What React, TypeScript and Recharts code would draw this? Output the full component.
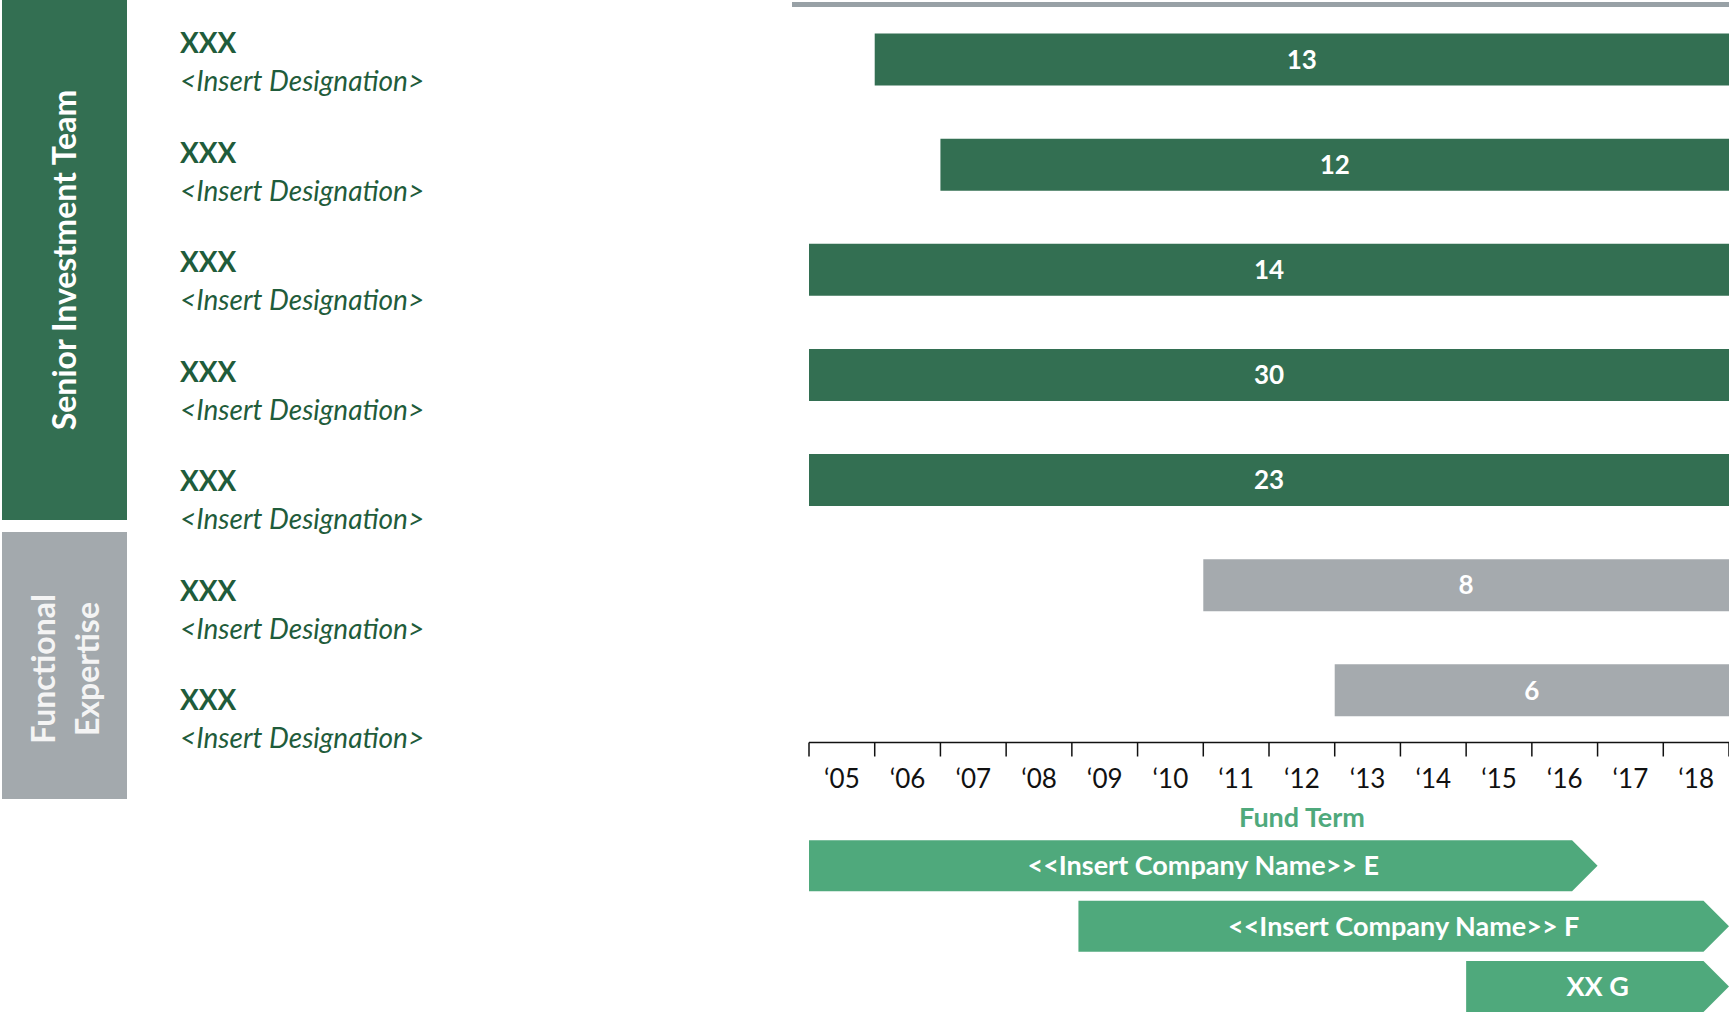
import React from 'react';
import { BarChart, Bar, XAxis, YAxis, Cell, LabelList, Label } from 'recharts';

// team rows, top to bottom
const names = ['XXX', 'XXX', 'XXX', 'XXX', 'XXX', 'XXX', 'XXX'];
const designations = [
    '<Insert Designation>',
    '<Insert Designation>',
    '<Insert Designation>',
    '<Insert Designation>',
    '<Insert Designation>',
    '<Insert Designation>',
    '<Insert Designation>',
];
const startYears = [2006, 2007, 2005, 2005, 2005, 2011, 2013];
const yearsExperience = [13, 12, 14, 30, 23, 8, 6];
const teamGroups = ['senior', 'senior', 'senior', 'senior', 'senior', 'functional', 'functional'];
const END_YEAR = 2019;

// x axis
const yearTicks = [2005, 2006, 2007, 2008, 2009, 2010, 2011, 2012, 2013, 2014, 2015, 2016, 2017, 2018, 2019];
const yearLabels = ['‘05', '‘06', '‘07', '‘08', '‘09', '‘10', '‘11', '‘12', '‘13', '‘14', '‘15', '‘16', '‘17', '‘18'];

// fund terms
const fundNames = ['<<Insert Company Name>> E', '<<Insert Company Name>> F', 'XX G'];
const fundStart = [2005, 2009.1, 2015];
const fundEnd = [2017, 2019, 2019];

const FONT = 'Lato, "Open Sans", sans-serif';
const DARK_GREEN = '#336f52';
const TEXT_GREEN = '#1f5c3b';
const GREY = '#a5aaae';
const LIGHT_GREEN = '#4fa97c';

const W = 1729;
const PLOT_LEFT = 809;
const HALF_YEAR = (W - PLOT_LEFT) / (END_YEAR - 2005) / 2;

const rows = names.map((n, i) => ({
    id: `r${i}`,
    name: n,
    designation: designations[i],
    span: [startYears[i], END_YEAR],
    years: yearsExperience[i],
    group: teamGroups[i],
}));

const funds = fundNames.map((n, i) => ({
    id: `f${i}`,
    name: n,
    span: [fundStart[i], fundEnd[i]],
}));

const YearTick = (props: any) => {
    const { x, y, index } = props;
    const label = yearLabels[index];
    if (!label) return null;
    return (
        <text x={x + HALF_YEAR} y={y + 29.5} textAnchor="middle" fill="#111" fontSize={26} fontFamily={FONT}>
            {label}
        </text>
    );
};

const NameTick = (props: any) => {
    const { y, index } = props;
    const row = rows[index];
    if (!row) return null;
    // the name column in the slide drifts slightly against the bars
    const base = y - 6 + index * 4.4;
    return (
        <g>
            <text x={180} y={base} fill={TEXT_GREEN} fontSize={28} fontWeight={700} fontFamily={FONT}>
                {row.name}
            </text>
            <text x={180} y={base + 38} fill={TEXT_GREEN} fontSize={28} fontStyle="italic" fontFamily={FONT}>
                {row.designation}
            </text>
        </g>
    );
};

const ArrowShape = (props: any) => {
    const { x, y, width, height, fill } = props;
    const tip = height / 2;
    const pts = [
        [x, y],
        [x + width - tip, y],
        [x + width, y + height / 2],
        [x + width - tip, y + height],
        [x, y + height],
    ];
    return <polygon points={pts.map(p => p.join(',')).join(' ')} fill={fill} />;
};

const GroupPanel = () => (
    <svg width={130} height={800} style={{ position: 'absolute', left: 0, top: 0 }}>
        <rect x={2} y={0} width={125} height={520} fill={DARK_GREEN} />
        <text
            x={63}
            y={260}
            transform="rotate(-90 63 260)"
            textAnchor="middle"
            dominantBaseline="central"
            fill="#fff"
            fontSize={32}
            fontWeight={700}
            fontFamily={FONT}
        >
            Senior Investment Team
        </text>
        <rect x={2} y={532} width={125} height={267} fill="#a3a9ad" />
        <g transform="rotate(-90 64 669)" fontFamily={FONT} fontSize={32} fontWeight={700} fill="#f4f4f4">
            <text x={64} y={669 - 22} textAnchor="middle" dominantBaseline="central">Functional</text>
            <text x={64} y={669 + 22} textAnchor="middle" dominantBaseline="central">Expertise</text>
        </g>
    </svg>
);

const App: React.FC = () => {
    return (
        <div
            style={{
                position: 'absolute',
                left: 0,
                top: 0,
                width: W,
                height: 1013,
                overflow: 'hidden',
                background: '#fff',
                fontFamily: FONT,
            }}
        >
            <GroupPanel />
            <div style={{ position: 'absolute', left: 792, top: 2, width: W - 792, height: 5, background: '#98a1a6' }} />

            <div style={{ position: 'absolute', left: 0, top: 0 }}>
                <BarChart
                    layout="vertical"
                    width={W}
                    height={835}
                    data={rows}
                    margin={{ top: 6.5, right: 0, bottom: 0, left: 0 }}
                    barSize={52}
                >
                    <XAxis
                        type="number"
                        domain={[2005, END_YEAR]}
                        ticks={yearTicks}
                        interval={0}
                        allowDataOverflow
                        height={92.5}
                        tickSize={14}
                        tickMargin={2}
                        axisLine={{ stroke: '#111', strokeWidth: 1.5 }}
                        tickLine={{ stroke: '#111', strokeWidth: 1.5 }}
                        tick={<YearTick />}
                    >
                        <Label
                            value="Fund Term"
                            position="insideBottom"
                            offset={8}
                            dx={33}
                            fill={LIGHT_GREEN}
                            fontSize={27}
                            fontWeight={700}
                            fontFamily={FONT}
                        />
                    </XAxis>
                    <YAxis
                        type="category"
                        dataKey="id"
                        width={PLOT_LEFT}
                        axisLine={false}
                        tickLine={false}
                        interval={0}
                        tick={<NameTick />}
                    />
                    <Bar dataKey="span" isAnimationActive={false}>
                        {rows.map(r => (
                            <Cell key={r.id} fill={r.group === 'senior' ? DARK_GREEN : GREY} />
                        ))}
                        <LabelList
                            dataKey="years"
                            position="center"
                            fill="#fff"
                            fontSize={26}
                            fontWeight={700}
                            fontFamily={FONT}
                        />
                    </Bar>
                </BarChart>
            </div>

            <div style={{ position: 'absolute', left: 0, top: 800 }}>
                <BarChart
                    layout="vertical"
                    width={W}
                    height={216.5}
                    data={funds}
                    margin={{ top: 35.3, right: 0, bottom: 0, left: PLOT_LEFT }}
                    barSize={51}
                >
                    <XAxis type="number" domain={[2005, END_YEAR]} allowDataOverflow hide />
                    <YAxis type="category" dataKey="id" hide />
                    <Bar dataKey="span" fill={LIGHT_GREEN} shape={<ArrowShape />} isAnimationActive={false}>
                        <LabelList
                            dataKey="name"
                            position="center"
                            fill="#fff"
                            fontSize={27}
                            fontWeight={700}
                            fontFamily={FONT}
                        />
                    </Bar>
                </BarChart>
            </div>
        </div>
    );
};

export default App;
